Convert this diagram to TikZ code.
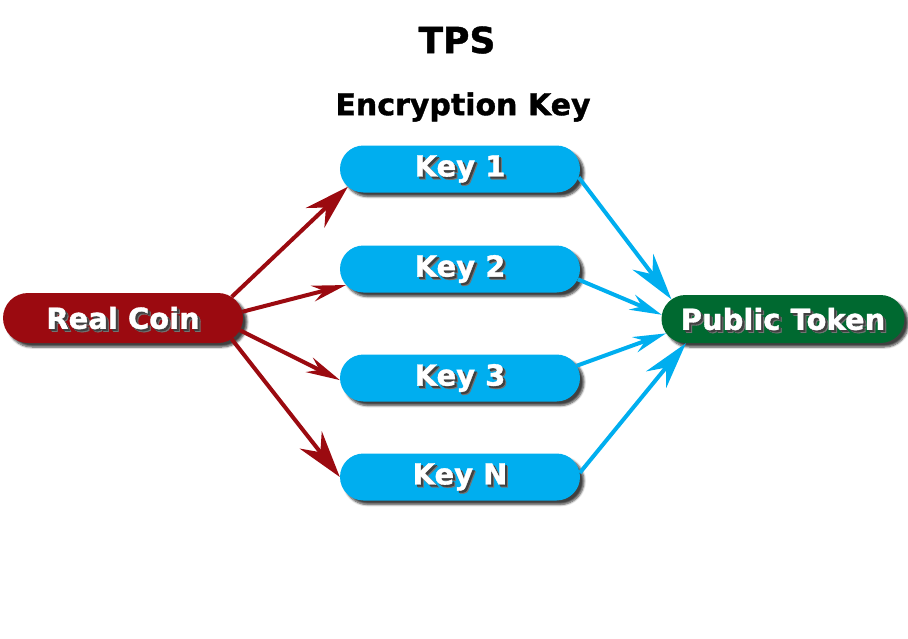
\documentclass[tikz,border=0pt]{standalone}
\usepackage{fontspec}
\setmainfont{DejaVu Sans}[BoldFeatures={FakeBold=1.2}]
\usepackage{xcolor}
\definecolor{coinred}{RGB}{155, 10, 16}
\definecolor{keyblue}{RGB}{0, 174, 239}
\definecolor{tokengreen}{RGB}{0, 105, 48}
\usetikzlibrary{arrows.meta, shapes.misc, shadows.blur}

% white label with a dark offset copy behind it
\newcommand{\shadowtext}[1]{\makebox[0pt][l]{\hspace{3pt}\raisebox{-3pt}[0pt][0pt]{\textcolor{black!55}{#1}}}\makebox[0pt][l]{\hspace{2pt}\raisebox{-2pt}[0pt][0pt]{\textcolor{black!75}{#1}}}#1}

\begin{document}
\begin{tikzpicture}[x=1pt, y=-1pt,
  pill/.style={rounded rectangle, minimum width=240pt, minimum height=47pt,
    inner sep=0pt, text=white, font=\fontsize{29}{29}\selectfont\bfseries,
    blur shadow={shadow xshift=4pt, shadow yshift=-4pt, shadow blur steps=6, shadow opacity=75}},
  redarrow/.style 2 args={coinred, line width=4pt, -{Stealth[length=#1, width=#2, inset=0.33*#1]}},
  bluearrow/.style 2 args={keyblue, line width=4pt, -{Stealth[length=#1, width=#2, inset=0.33*#1]}}]
  \useasboundingbox (0,0) rectangle (908,638);

  % Titles
  \node[font=\fontsize{36}{36}\selectfont\bfseries] (title) at (457,40) {TPS};
  \node[font=\fontsize{30}{30}\selectfont\bfseries] (enckey) at (463,107) {Encryption Key};

  % Nodes
  \node[pill, fill=coinred, minimum height=50pt] (realcoin) at (123,318) {\shadowtext{Real Coin}};
  \foreach \name/\lbl/\y in {key1/Key 1/169, key2/Key 2/269, key3/Key 3/378, keyn/Key N/477}
    \node[pill, fill=keyblue] (\name) at (460,\y) {\shadowtext{\lbl}};
  \node[pill, fill=tokengreen, minimum width=243pt, minimum height=48pt] (token) at (783,319) {\shadowtext{Public Token}};

  % Arrows coin -> keys
  \foreach \k/\s/\e/\l/\w in {key1/11/189/45pt/27pt, key2/3/188/34pt/16pt, key3/354/181/34pt/16pt, keyn/349/180/47pt/28pt}
    \draw[redarrow={\l}{\w}] (realcoin.\s) -- (\k.\e);

  % Arrows keys -> token
  \foreach \k/\s/\e/\l/\w in {key1/356/170/47pt/26pt, key2/355/178/32pt/16pt, key3/6/187/33pt/16pt, keyn/2/194/47pt/26pt}
    \draw[bluearrow={\l}{\w}] (\k.\s) -- (token.\e);
\end{tikzpicture}
\end{document}
